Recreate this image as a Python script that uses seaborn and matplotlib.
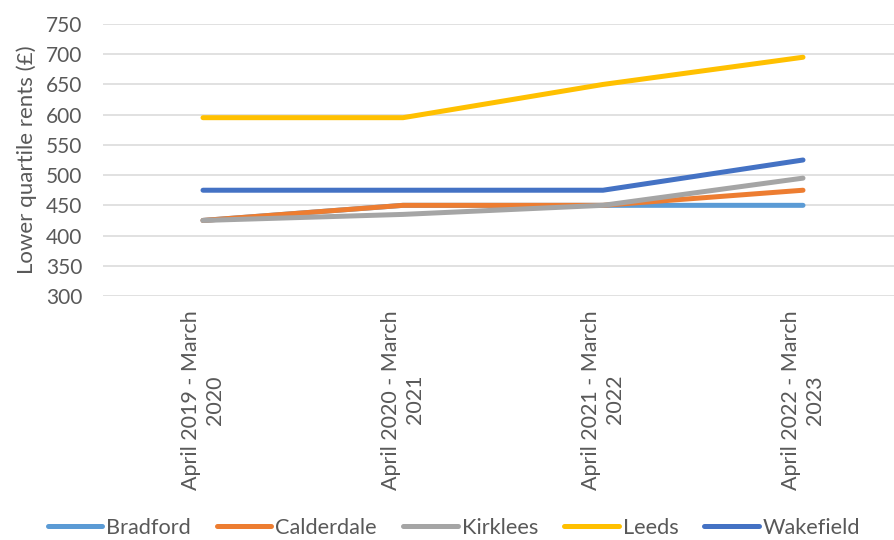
import matplotlib
matplotlib.use("Agg")
import matplotlib.pyplot as plt
import seaborn as sns
import pandas as pd
from matplotlib.lines import Line2D

periods = ["April 2019 - March\n2020", "April 2020 - March\n2021",
           "April 2021 - March\n2022", "April 2022 - March\n2023"]
areas = ["Bradford", "Calderdale", "Kirklees", "Leeds", "Wakefield"]
bradford = [425, 450, 450, 450]
calderdale = [425, 450, 450, 475]
kirklees = [425, 435, 450, 495]
leeds = [595, 595, 650, 695]
wakefield = [475, 475, 475, 525]
colors = ["#5B9BD5", "#ED7D31", "#A5A5A5", "#FFC000", "#4472C4"]
yticks = [300, 350, 400, 450, 500, 550, 600, 650, 700, 750]

series = [bradford, calderdale, kirklees, leeds, wakefield]
rows = []
for name, vals in zip(areas, series):
    for p, v in zip(periods, vals):
        rows.append({"Period": p, "Area": name, "Rent": v})
df = pd.DataFrame(rows)

sns.set_style("white")
plt.rcParams["font.family"] = ["Lato", "DejaVu Sans"]

fig = plt.figure(figsize=(8.94, 5.4), dpi=100)
ax = fig.add_axes([103 / 894, (540 - 296) / 540, 800 / 894, (296 - 24) / 540])

sns.lineplot(data=df, x="Period", y="Rent", hue="Area", hue_order=areas,
             palette=colors, linewidth=3.6, ax=ax, sort=False,
             solid_capstyle="round", legend=False)

ax.set_xlim(-0.5, 3.5)
ax.set_ylim(300, 750)
ax.set_yticks(yticks)
ax.yaxis.grid(True, color="#D9D9D9", linewidth=1.1)
ax.set_axisbelow(True)
for s in ax.spines.values():
    s.set_visible(False)
ax.tick_params(axis="both", length=0, labelsize=15, colors="#595959")
ax.tick_params(axis="y", pad=15)
ax.tick_params(axis="x", pad=10, labelsize=15.5)
ax.set_xticks(range(len(periods)))
ax.set_xticklabels(periods, rotation=90, ha="center", va="top",
                   multialignment="center")
ax.set_xlabel("")
ax.set_ylabel("Lower quartile rents (£)", fontsize=16, color="#595959", labelpad=6)

handles = [Line2D([0], [0], color=c, linewidth=3.6, solid_capstyle="round") for c in colors]
fig.legend(handles, areas, loc="center", bbox_to_anchor=(454 / 894, 1 - 528 / 540),
           ncol=5, frameon=False, fontsize=15.7, handlelength=2.5,
           handletextpad=0.18, columnspacing=1.2, labelcolor="#595959",
           borderpad=0, borderaxespad=0)

fig.savefig("out.png", dpi=100)
